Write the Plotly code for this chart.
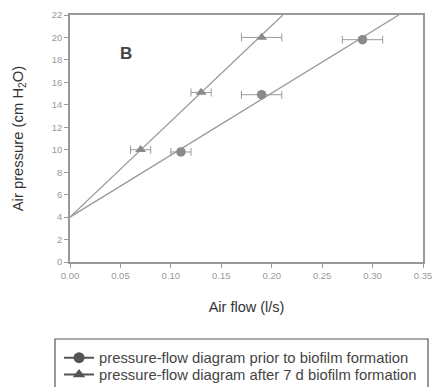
import plotly.graph_objects as go

# data
prior_flow = [0.11, 0.19, 0.29]
prior_pressure = [9.8, 14.9, 19.8]
prior_flow_err = [0.01, 0.02, 0.02]

after_flow = [0.07, 0.13, 0.19]
after_pressure = [10.0, 15.1, 20.0]
after_flow_err = [0.01, 0.01, 0.02]

# fitted lines
prior_fit_x = [0.0, 0.326]
prior_fit_y = [4.0, 22.0]
after_fit_x = [0.0, 0.211]
after_fit_y = [4.0, 22.0]

x_ticks = [0.0, 0.05, 0.10, 0.15, 0.20, 0.25, 0.30, 0.35]
x_tick_labels = ["0.00", "0.05", "0.10", "0.15", "0.20", "0.25", "0.30", "0.35"]
y_ticks = list(range(0, 23, 2))

labels = ["pressure-flow diagram prior to biofilm formation",
          "pressure-flow diagram after 7 d biofilm formation"]

mk = "#8a8a8a"
ln = "#9a9a9a"
FONT = "Liberation Sans, Arial"

fig = go.Figure()
fig.add_trace(go.Scatter(x=prior_fit_x, y=prior_fit_y, mode="lines",
                         line=dict(color=ln, width=1.3), showlegend=False, hoverinfo="skip"))
fig.add_trace(go.Scatter(x=after_fit_x, y=after_fit_y, mode="lines",
                         line=dict(color=ln, width=1.3), showlegend=False, hoverinfo="skip"))
fig.add_trace(go.Scatter(x=prior_flow, y=prior_pressure, mode="markers", name=labels[0],
                         marker=dict(symbol="circle", size=9.5, color=mk),
                         error_x=dict(type="data", array=prior_flow_err, color=ln, thickness=1, width=4),
                         showlegend=False))
fig.add_trace(go.Scatter(x=after_flow, y=after_pressure, mode="markers", name=labels[1],
                         marker=dict(symbol="triangle-up", size=9.5, color=mk),
                         error_x=dict(type="data", array=after_flow_err, color=ln, thickness=1, width=4),
                         showlegend=False))
# legend entries (one legend per row so the rows can sit close together)
fig.add_trace(go.Scatter(x=[None], y=[None], mode="lines+markers", name=labels[0],
                         line=dict(color="#555", width=2),
                         marker=dict(symbol="circle", size=11, color="#555"), legend="legend"))
fig.add_trace(go.Scatter(x=[None], y=[None], mode="lines+markers", name=labels[1],
                         line=dict(color="#555", width=2),
                         marker=dict(symbol="triangle-up", size=11, color="#555"), legend="legend2"))

fig.add_annotation(x=0.056, y=18.6, text="<b>B</b>", showarrow=False,
                   font=dict(size=17, color="#444", family=FONT))

# legend frame
fig.add_shape(type="rect", xref="paper", yref="paper", x0=-0.0425, x1=1.0142,
              y0=-0.56, y1=-0.3117, line=dict(color="#555", width=1.2), layer="below")

axis_common = dict(showgrid=False, zeroline=False, showline=True, linecolor="#999",
                   linewidth=1.5, mirror=True, ticks="outside", ticklen=4, tickcolor="#999",
                   ticklabeloverflow="allow", automargin=False,
                   tickfont=dict(size=9.5, color="#999", family=FONT))

fig.update_xaxes(range=[0, 0.35], tickvals=x_ticks, ticktext=x_tick_labels,
                 title=dict(text="Air flow (l/s)", standoff=22,
                            font=dict(size=14.5, color="#333", family=FONT)),
                 **axis_common)
fig.update_yaxes(range=[0, 22], tickvals=y_ticks,
                 title=dict(text="Air pressure (cm H<sub>2</sub>O)", standoff=25,
                            font=dict(size=14.8, color="#333", family=FONT)),
                 **axis_common)

leg_common = dict(xanchor="left", yanchor="middle", borderwidth=0,
                  bgcolor="rgba(0,0,0,0)", itemwidth=30,
                  font=dict(size=14.8, color="#444", family=FONT))

fig.update_layout(
    width=435, height=387,
    margin=dict(l=70, r=12, t=15, b=125, autoexpand=False),
    paper_bgcolor="white", plot_bgcolor="white",
    legend=dict(x=-0.031, y=-0.3887, **leg_common),
    legend2=dict(x=-0.031, y=-0.4575, **leg_common),
)

fig.write_html("out.html", config={"displayModeBar": False},
               post_script="document.body.style.margin='0';")
